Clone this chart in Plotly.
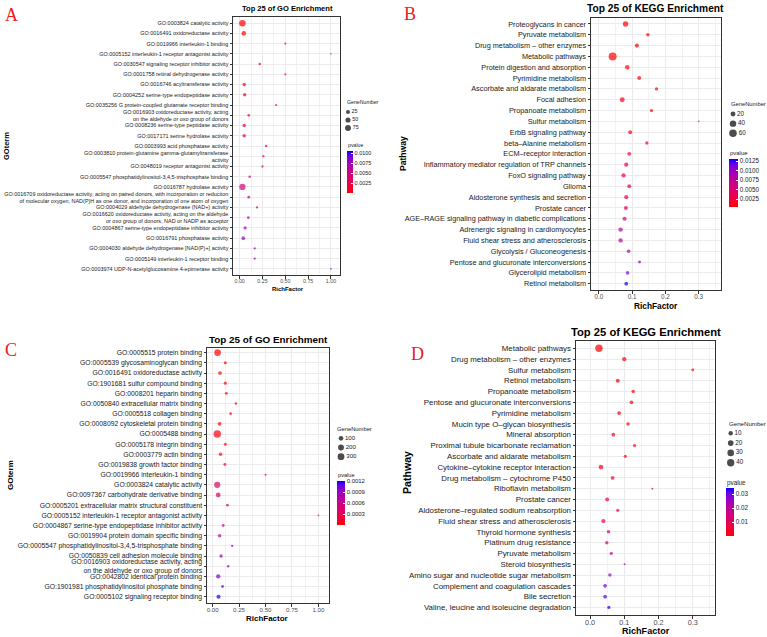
import math
import plotly.graph_objects as go

W, H = 767, 637

# ---------------- DATA ----------------
A_terms = [
    "GO:0003824 catalytic activity",
    "GO:0016491 oxidoreductase activity",
    "GO:0019966 interleukin-1 binding",
    "GO:0005152 interleukin-1 receptor antagonist activity",
    "GO:0030547 signaling receptor inhibitor activity",
    "GO:0001758 retinal dehydrogenase activity",
    "GO:0016746 acyltransferase activity",
    "GO:0004252 serine-type endopeptidase activity",
    "GO:0035256 G protein-coupled glutamate receptor binding",
    "GO:0016903 oxidoreductase activity, acting<br>on the aldehyde or oxo group of donors",
    "GO:0008236 serine-type peptidase activity",
    "GO:0017171 serine hydrolase activity",
    "GO:0003993 acid phosphatase activity",
    "GO:0003810 protein-glutamine gamma-glutamyltransferase<br>activity",
    "GO:0048019 receptor antagonist activity",
    "GO:0005547 phosphatidylinositol-3,4,5-trisphosphate binding",
    "GO:0016787 hydrolase activity",
    "GO:0016709 oxidoreductase activity, acting on paired donors, with incorporation or reduction<br>of molecular oxygen, NAD(P)H as one donor, and incorporation of one atom of oxygen",
    "GO:0004029 aldehyde dehydrogenase (NAD+) activity",
    "GO:0016620 oxidoreductase activity, acting on the aldehyde<br>or oxo group of donors, NAD or NADP as acceptor",
    "GO:0004867 serine-type endopeptidase inhibitor activity",
    "GO:0016791 phosphatase activity",
    "GO:0004030 aldehyde dehydrogenase [NAD(P)+] activity",
    "GO:0005149 interleukin-1 receptor binding",
    "GO:0003974 UDP-N-acetylglucosamine 4-epimerase activity",
]
A_rich = [0.03, 0.045, 0.5, 1.0, 0.22, 0.5, 0.05, 0.055, 0.4, 0.1, 0.05, 0.05, 0.29,
          0.26, 0.25, 0.11, 0.03, 0.1, 0.19, 0.095, 0.06, 0.04, 0.165, 0.165, 1.0]
A_genes = [95, 35, 2, 1, 4, 2, 15, 14, 2, 6, 15, 15, 4, 3, 3, 5, 85, 7, 3, 6, 12, 18, 3, 3, 1]
A_pval = [1e-5, 5e-5, 3e-4, 5e-4, 6e-4, 7e-4, 8e-4, 9e-4, 1.0e-3, 1.1e-3, 1.2e-3, 1.3e-3, 1.8e-3,
          2.0e-3, 2.2e-3, 3.0e-3, 4.5e-3, 5.5e-3, 6.0e-3, 6.5e-3, 7.5e-3, 8.0e-3, 8.5e-3, 8.8e-3, 1.05e-2]
A_size_breaks = [25, 50, 75]
A_p_ticks = [0.0025, 0.0050, 0.0075, 0.0100]
A_p_ticklabels = ["0.0025", "0.0050", "0.0075", "0.0100"]
A_x_ticks = [0.0, 0.25, 0.5, 0.75, 1.0]
A_x_ticklabels = ["0.00", "0.25", "0.50", "0.75", "1.00"]

B_terms = [
    "Proteoglycans in cancer", "Pyruvate metabolism", "Drug metabolism – other enzymes",
    "Metabolic pathways", "Protein digestion and absorption", "Pyrimidine metabolism",
    "Ascorbate and aldarate metabolism", "Focal adhesion", "Propanoate metabolism",
    "Sulfur metabolism", "ErbB signaling pathway", "beta–Alanine metabolism",
    "ECM–receptor interaction", "Inflammatory mediator regulation of TRP channels",
    "FoxO signaling pathway", "Glioma", "Aldosterone synthesis and secretion", "Prostate cancer",
    "AGE–RAGE signaling pathway in diabetic complications", "Adrenergic signaling in cardiomyocytes",
    "Fluid shear stress and atherosclerosis", "Glycolysis / Gluconeogenesis",
    "Pentose and glucuronate interconversions", "Glycerolipid metabolism", "Retinol metabolism",
]
B_rich = [0.08, 0.147, 0.114, 0.041, 0.085, 0.121, 0.173, 0.07, 0.158, 0.30, 0.094, 0.144,
          0.091, 0.082, 0.074, 0.091, 0.082, 0.081, 0.077, 0.065, 0.065, 0.089, 0.122, 0.086, 0.082]
B_genes = [25, 8, 12, 70, 15, 10, 6, 20, 6, 1, 10, 6, 10, 12, 13, 10, 12, 12, 12, 14, 14, 8, 4, 8, 9]
B_pval = [5e-4, 6e-4, 6e-4, 4e-4, 7e-4, 8e-4, 9e-4, 9e-4, 1.0e-3, 1.1e-3, 1.3e-3, 1.5e-3, 2.1e-3,
          2.6e-3, 3.0e-3, 3.8e-3, 4.1e-3, 4.3e-3, 5.5e-3, 7.5e-3, 7.8e-3, 8.8e-3, 9.8e-3, 1.06e-2, 1.31e-2]
B_size_breaks = [20, 40, 60]
B_p_ticks = [0.0025, 0.0050, 0.0075, 0.0100, 0.0125]
B_p_ticklabels = ["0.0025", "0.0050", "0.0075", "0.0100", "0.0125"]
B_x_ticks = [0.0, 0.1, 0.2, 0.3]
B_x_ticklabels = ["0.0", "0.1", "0.2", "0.3"]

C_terms = [
    "GO:0005515 protein binding",
    "GO:0005539 glycosaminoglycan binding",
    "GO:0016491 oxidoreductase activity",
    "GO:1901681 sulfur compound binding",
    "GO:0008201 heparin binding",
    "GO:0050840 extracellular matrix binding",
    "GO:0005518 collagen binding",
    "GO:0008092 cytoskeletal protein binding",
    "GO:0005488 binding",
    "GO:0005178 integrin binding",
    "GO:0003779 actin binding",
    "GO:0019838 growth factor binding",
    "GO:0019966 interleukin-1 binding",
    "GO:0003824 catalytic activity",
    "GO:0097367 carbohydrate derivative binding",
    "GO:0005201 extracellular matrix structural constituent",
    "GO:0005152 interleukin-1 receptor antagonist activity",
    "GO:0004867 serine-type endopeptidase inhibitor activity",
    "GO:0019904 protein domain specific binding",
    "GO:0005547 phosphatidylinositol-3,4,5-trisphosphate binding",
    "GO:0050839 cell adhesion molecule binding",
    "GO:0016903 oxidoreductase activity, acting<br>on the aldehyde or oxo group of donors",
    "GO:0042802 identical protein binding",
    "GO:1901981 phosphatidylinositol phosphate binding",
    "GO:0005102 signaling receptor binding",
]
C_rich = [0.047, 0.12, 0.07, 0.12, 0.13, 0.22, 0.17, 0.066, 0.044, 0.12, 0.075, 0.116, 0.5,
          0.044, 0.053, 0.14, 1.0, 0.1, 0.066, 0.185, 0.08, 0.147, 0.053, 0.094, 0.056]
C_genes = [280, 18, 45, 22, 16, 8, 10, 50, 390, 18, 35, 17, 2, 230, 110, 14, 1, 15, 40, 5, 30, 7, 80, 14, 65]
C_pval = [1e-9, 2e-6, 5e-6, 8e-6, 1e-5, 2e-5, 3e-5, 4e-5, 5e-5, 6e-5, 8e-5, 1e-4, 1.6e-4, 4.0e-4,
          4.6e-4, 5.0e-4, 6.0e-4, 6.6e-4, 7.0e-4, 8.6e-4, 9.0e-4, 9.2e-4, 1.0e-3, 1.1e-3, 1.21e-3]
C_size_breaks = [100, 200, 300]
C_p_ticks = [0.0003, 0.0006, 0.0009, 0.0012]
C_p_ticklabels = ["0.0003", "0.0006", "0.0009", "0.0012"]
C_x_ticks = [0.0, 0.25, 0.5, 0.75, 1.0]
C_x_ticklabels = ["0.00", "0.25", "0.50", "0.75", "1.00"]

D_terms = [
    "Metabolic pathways", "Drug metabolism – other enzymes", "Sulfur metabolism",
    "Retinol metabolism", "Propanoate metabolism", "Pentose and glucuronate interconversions",
    "Pyrimidine metabolism", "Mucin type O–glycan biosynthesis", "Mineral absorption",
    "Proximal tubule bicarbonate reclamation", "Ascorbate and aldarate metabolism",
    "Cytokine–cytokine receptor interaction", "Drug metabolism – cytochrome P450",
    "Riboflavin metabolism", "Prostate cancer", "Aldosterone–regulated sodium reabsorption",
    "Fluid shear stress and atherosclerosis", "Thyroid hormone synthesis",
    "Platinum drug resistance", "Pyruvate metabolism", "Steroid biosynthesis",
    "Amino sugar and nucleotide sugar metabolism", "Complement and coagulation cascades",
    "Bile secretion", "Valine, leucine and isoleucine degradation",
]
D_rich = [0.026, 0.1, 0.3, 0.081, 0.126, 0.121, 0.085, 0.111, 0.068, 0.13, 0.103, 0.032, 0.066,
          0.182, 0.05, 0.081, 0.039, 0.054, 0.049, 0.062, 0.101, 0.058, 0.044, 0.044, 0.055]
D_genes = [42, 9, 3, 8, 5, 6, 7, 5, 6, 4, 4, 12, 6, 2, 7, 4, 9, 5, 5, 4, 2, 5, 6, 6, 4]
D_pval = [1e-8, 1e-4, 3e-4, 5e-4, 6e-4, 7e-4, 8e-4, 1e-3, 1.2e-3, 1.5e-3, 2e-3, 2.5e-3, 3e-3,
          4e-3, 8e-3, 7e-3, 1.0e-2, 1.4e-2, 1.6e-2, 2.0e-2, 2.3e-2, 2.6e-2, 3.1e-2, 3.2e-2, 3.45e-2]
D_size_breaks = [10, 20, 30, 40]
D_p_ticks = [0.01, 0.02, 0.03]
D_p_ticklabels = ["0.01", "0.02", "0.03"]
D_x_ticks = [0.0, 0.1, 0.2, 0.3]
D_x_ticklabels = ["0.0", "0.1", "0.2", "0.3"]

# ---------------- STYLE ----------------
SANS = "Liberation Sans, Arial, sans-serif"
SERIF = "Liberation Serif, Times New Roman, serif"
K = 0.83  # horizontal compression of the reference text, matched by width


def fs(v):
    return round(v * K, 2)


def lab_gradient(c1, c2, n=11):
    def to_lin(c):
        return c / 12.92 if c <= 0.04045 else ((c + 0.055) / 1.055) ** 2.4

    def to_lab(rgb):
        r, g, b = [to_lin(v / 255) for v in rgb]
        X = 0.4124564 * r + 0.3575761 * g + 0.1804375 * b
        Y = 0.2126729 * r + 0.7151522 * g + 0.0721750 * b
        Z = 0.0193339 * r + 0.1191920 * g + 0.9503041 * b
        def f(t):
            return t ** (1 / 3) if t > (6 / 29) ** 3 else t / (3 * (6 / 29) ** 2) + 4 / 29
        fx, fy, fz = f(X / 0.95047), f(Y / 1.0), f(Z / 1.08883)
        return (116 * fy - 16, 500 * (fx - fy), 200 * (fy - fz))

    def from_lab(L, a, b):
        fy = (L + 16) / 116
        fx = fy + a / 500
        fz = fy - b / 200
        def finv(t):
            return t ** 3 if t > 6 / 29 else 3 * (6 / 29) ** 2 * (t - 4 / 29)
        X, Y, Z = 0.95047 * finv(fx), finv(fy), 1.08883 * finv(fz)
        r = 3.2404542 * X - 1.5371385 * Y - 0.4985314 * Z
        g = -0.9692660 * X + 1.8760108 * Y + 0.0415560 * Z
        bb = 0.0556434 * X - 0.2040259 * Y + 1.0572252 * Z
        def gam(c):
            c = min(max(c, 0), 1)
            return 12.92 * c if c <= 0.0031308 else 1.055 * c ** (1 / 2.4) - 0.055
        return "rgb(%d,%d,%d)" % tuple(round(255 * gam(v)) for v in (r, g, bb))

    l1, l2 = to_lab(c1), to_lab(c2)
    out = []
    for i in range(n):
        t = i / (n - 1)
        out.append([t, from_lab(*[l1[k] + (l2[k] - l1[k]) * t for k in range(3)])])
    return out


CSCALE = lab_gradient((255, 0, 0), (0, 0, 255))


def size_scale(vals, vmin, vmax, dmin, dmax):
    return [dmin + (dmax - dmin) * math.sqrt((v - vmin) / (vmax - vmin)) for v in vals]


panels = [
    dict(key="A", terms=A_terms, rich=A_rich, genes=A_genes, pval=A_pval,
         breaks=A_size_breaks, pticks=A_p_ticks, ptext=A_p_ticklabels,
         xt=A_x_ticks, xtt=A_x_ticklabels, minor=0.125,
         box=(233, 17, 340, 275), xr=[-0.073, 1.099], ypad=(0.6, 0.6),
         yfs=6.6, xfs=6.4, dmin=1.6, dmax=6.5,
         title="Top 25 of GO Enrichment", tpos=(287, 9), tfs=9.1,
         xtitle_pos=(287.5, 289), xtitle_fs=7.2,
         ytitle="GOterm", ytitle_pos=(7, 146), ytitle_fs=7.5,
         letter_pos=(11, 15),
         leg_title_pos=(345, 102), leg_ys=[112, 120, 128], leg_x=348, leg_fs=6.5, leg_title_fs=6.3,
         cb=(347, 151, 42, 6), cb_fs=6.6, p_title_pos=(346, 145), p_title_fs=6.3),
    dict(key="B", terms=B_terms, rich=B_rich, genes=B_genes, pval=B_pval,
         breaks=B_size_breaks, pticks=B_p_ticks, ptext=B_p_ticklabels,
         xt=B_x_ticks, xtt=B_x_ticklabels, minor=0.05,
         box=(591, 18, 721, 290), xr=[-0.024, 0.367], ypad=(0.55, 0.58),
         yfs=8.8, xfs=7.6, dmin=1.6, dmax=8.0,
         title="Top 25 of KEGG Enrichment", tpos=(655, 8.5), tfs=12.3,
         xtitle_pos=(655.5, 305.5), xtitle_fs=10,
         ytitle="Pathway", ytitle_pos=(403, 154), ytitle_fs=8.6,
         letter_pos=(410, 14),
         leg_title_pos=(729, 104), leg_ys=[114, 123.5, 133.3], leg_x=733, leg_fs=7.6, leg_title_fs=7.0,
         cb=(729, 159, 48, 9), cb_fs=7.6, p_title_pos=(728, 153), p_title_fs=7.2),
    dict(key="C", terms=C_terms, rich=C_rich, genes=C_genes, pval=C_pval,
         breaks=C_size_breaks, pticks=C_p_ticks, ptext=C_p_ticklabels,
         xt=C_x_ticks, xtt=C_x_ticklabels, minor=0.125,
         box=(207, 348, 329, 603), xr=[-0.053, 1.1], ypad=(0.46, 0.62),
         yfs=8.2, xfs=7.4, dmin=1.8, dmax=7.5,
         title="Top 25 of GO Enrichment", tpos=(268, 339.5), tfs=11.9,
         xtitle_pos=(267, 618.5), xtitle_fs=9.6,
         ytitle="GOterm", ytitle_pos=(10, 475), ytitle_fs=8.0,
         letter_pos=(11, 350),
         leg_title_pos=(335, 429), leg_ys=[438.3, 448.3, 456.7], leg_x=341, leg_fs=7.4, leg_title_fs=7.0,
         cb=(337, 481, 44, 8), cb_fs=7.2, p_title_pos=(336, 475), p_title_fs=6.8),
    dict(key="D", terms=D_terms, rich=D_rich, genes=D_genes, pval=D_pval,
         breaks=D_size_breaks, pticks=D_p_ticks, ptext=D_p_ticklabels,
         xt=D_x_ticks, xtt=D_x_ticklabels, minor=0.05,
         box=(576, 341, 715, 615), xr=[-0.041, 0.365], ypad=(0.68, 0.7),
         yfs=9.5, xfs=8.8, dmin=2.0, dmax=7.5,
         title="Top 25 of KEGG Enrichment", tpos=(646, 332), tfs=13.5,
         xtitle_pos=(646, 631), xtitle_fs=10.9,
         ytitle="Pathway", ytitle_pos=(407, 473), ytitle_fs=10.6,
         letter_pos=(417, 354),
         leg_title_pos=(727, 423), leg_ys=[433.3, 443.3, 452.7, 462.7], leg_x=730.7, leg_fs=7.6,
         leg_title_fs=7.4,
         cb=(726, 488, 48, 8), cb_fs=7.6, p_title_pos=(725, 483), p_title_fs=7.6),
]

fig = go.Figure()
layout = dict(width=W, height=H, margin=dict(l=0, r=0, t=0, b=0, pad=0, autoexpand=False),
              paper_bgcolor="white", plot_bgcolor="white", showlegend=False)
annotations = []

for i, p in enumerate(panels):
    n = i + 1
    sfx = "" if n == 1 else str(n)
    x0, y0, x1, y1 = p["box"]
    vmin, vmax = min(p["genes"]), max(p["genes"])
    sizes = size_scale(p["genes"], vmin, vmax, p["dmin"], p["dmax"])
    fig.add_trace(go.Scatter(
        x=p["rich"], y=p["terms"], mode="markers", xaxis="x" + sfx, yaxis="y" + sfx,
        cliponaxis=False,
        marker=dict(size=sizes, color=p["pval"], colorscale=CSCALE,
                    cmin=min(p["pval"]), cmax=max(p["pval"]), line=dict(width=0),
                    showscale=True,
                    colorbar=dict(
                        x=p["cb"][0] / W, xanchor="left", xpad=0,
                        y=1 - p["cb"][1] / H, yanchor="top", ypad=0,
                        len=p["cb"][2], lenmode="pixels",
                        thickness=p["cb"][3], thicknessmode="pixels",
                        outlinewidth=0, tickmode="array", tickvals=p["pticks"], ticktext=p["ptext"],
                        ticks="inside", tickcolor="white", ticklen=2,
                        tickfont=dict(family=SANS, size=fs(p["cb_fs"]), color="#1a1a1a"),
                        title=dict(text=""))),
        showlegend=False, hoverinfo="skip"))
    cat_array = list(reversed(p["terms"]))
    layout["xaxis" + sfx] = dict(
        domain=[x0 / W, x1 / W], anchor="y" + sfx, range=p["xr"],
        tickmode="array", tickvals=p["xt"], ticktext=p["xtt"],
        showgrid=True, gridcolor="#EBEBEB", gridwidth=1,
        minor=dict(dtick=p["minor"], tick0=0, showgrid=True, gridcolor="#F2F2F2", gridwidth=0.6),
        showline=True, mirror=True, linecolor="#333333", linewidth=1,
        ticks="outside", ticklen=2.5, tickcolor="#333333", ticklabelstandoff=-2,
        tickfont=dict(family=SANS, size=fs(p["xfs"]), color="#4D4D4D"),
        zeroline=False, fixedrange=True)
    layout["yaxis" + sfx] = dict(
        domain=[1 - y1 / H, 1 - y0 / H], anchor="x" + sfx, type="category",
        categoryorder="array", categoryarray=cat_array,
        range=[-p["ypad"][1], len(p["terms"]) - 1 + p["ypad"][0]],
        tickmode="array", tickvals=cat_array, ticktext=cat_array,
        showgrid=True, gridcolor="#EBEBEB", gridwidth=1,
        showline=True, mirror=True, linecolor="#333333", linewidth=1,
        ticks="outside", ticklen=2.5, tickcolor="#333333",
        tickfont=dict(family=SANS, size=fs(p["yfs"]), color="#1a1a1a"),
        zeroline=False, fixedrange=True)

    # size legend on its own little axes
    ln = 4 + n
    ys = p["leg_ys"]
    lx = p["leg_x"]
    leg_sizes = size_scale(p["breaks"], vmin, vmax, p["dmin"], p["dmax"])
    fig.add_trace(go.Scatter(
        x=[0] * len(p["breaks"]), y=list(range(len(p["breaks"]))),
        mode="markers+text", text=[str(b) for b in p["breaks"]], textposition="middle right",
        textfont=dict(family=SANS, size=fs(p["leg_fs"]), color="#1a1a1a"),
        marker=dict(size=leg_sizes, color="black", line=dict(width=0)),
        xaxis="x%d" % ln, yaxis="y%d" % ln, cliponaxis=False, showlegend=False, hoverinfo="skip"))
    layout["xaxis%d" % ln] = dict(domain=[(lx - 5) / W, (lx + 30) / W], range=[-5, 30],
                                  anchor="y%d" % ln, visible=False, fixedrange=True)
    layout["yaxis%d" % ln] = dict(domain=[1 - ys[-1] / H, 1 - ys[0] / H],
                                  range=[len(ys) - 1, 0], anchor="x%d" % ln,
                                  visible=False, fixedrange=True)

    # texts
    annotations.append(dict(text="<b>%s</b>" % p["title"], x=p["tpos"][0] / W, y=1 - p["tpos"][1] / H,
                            xref="paper", yref="paper", xanchor="center", yanchor="middle",
                            showarrow=False, font=dict(family=SANS, size=fs(p["tfs"]), color="black")))
    annotations.append(dict(text="<b>RichFactor</b>", x=p["xtitle_pos"][0] / W, y=1 - p["xtitle_pos"][1] / H,
                            xref="paper", yref="paper", xanchor="center", yanchor="middle",
                            showarrow=False, font=dict(family=SANS, size=fs(p["xtitle_fs"]), color="black")))
    annotations.append(dict(text="<b>%s</b>" % p["ytitle"], x=p["ytitle_pos"][0] / W, y=1 - p["ytitle_pos"][1] / H,
                            xref="paper", yref="paper", xanchor="center", yanchor="middle", textangle=-90,
                            showarrow=False, font=dict(family=SANS, size=p["ytitle_fs"], color="black")))
    annotations.append(dict(text=p["key"], x=p["letter_pos"][0] / W, y=1 - p["letter_pos"][1] / H,
                            xref="paper", yref="paper", xanchor="center", yanchor="middle",
                            showarrow=False, font=dict(family=SERIF, size=18, color="#E8201A")))
    annotations.append(dict(text="GeneNumber", x=p["leg_title_pos"][0] / W, y=1 - p["leg_title_pos"][1] / H,
                            xref="paper", yref="paper", xanchor="left", yanchor="middle",
                            showarrow=False, font=dict(family=SANS, size=fs(p["leg_title_fs"]), color="#1a1a1a")))
    annotations.append(dict(text="pvalue", x=p["p_title_pos"][0] / W, y=1 - p["p_title_pos"][1] / H,
                            xref="paper", yref="paper", xanchor="left", yanchor="middle",
                            showarrow=False, font=dict(family=SANS, size=fs(p["p_title_fs"]), color="#1a1a1a")))

layout["annotations"] = annotations
fig.update_layout(**layout)
fig.write_html("out.html")
